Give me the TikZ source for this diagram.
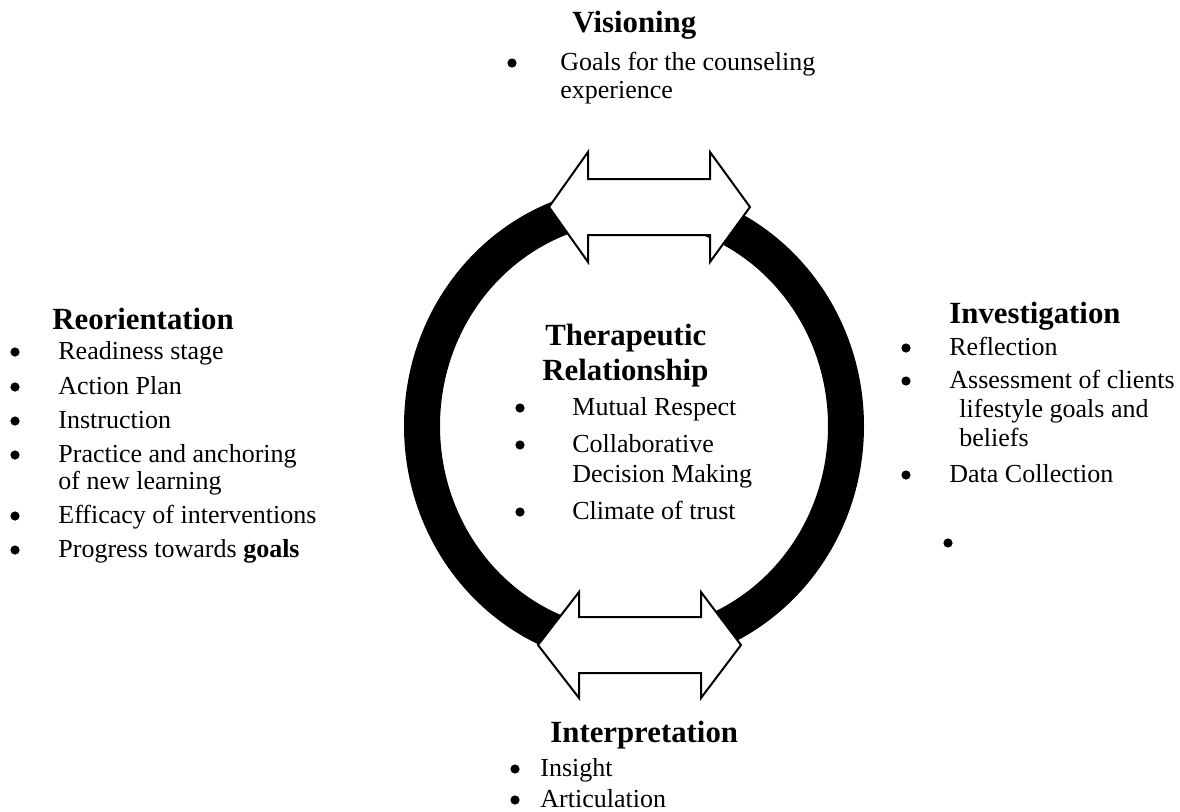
\documentclass[tikz,border=0pt]{standalone}
\usepackage{fontspec}
\setmainfont{Liberation Serif}
\newcommand{\headfont}{\fontsize{15.4pt}{18pt}\selectfont\bfseries}
\newcommand{\bodyfont}{\fontsize{13pt}{15pt}\selectfont}
\tikzset{
  head/.style={font=\headfont, anchor=base west, inner sep=0pt},
  itemtext/.style={font=\bodyfont, anchor=base west, inner sep=0pt},
  dot/.style={circle, fill=black, inner sep=0pt, minimum size=4.6pt},
  ring/.style={draw=black, line width=18pt},
  dblarrow/.style={draw=black, fill=white, line width=1pt, line join=miter},
}
\begin{document}
\begin{tikzpicture}[x=0.5pt, y=-0.5pt]
  \useasboundingbox (0,0) rectangle (1180,811);

  % the cycle ring
  \draw[ring] (634,426) ellipse [x radius=106pt, y radius=111pt];

  % double arrows on the ring, top and bottom
  \draw[dblarrow] (549,207) -- (588,152) -- (588,179) -- (710,179) -- (710,152)
    -- (750,207) -- (710,262) -- (710,235) -- (588,235) -- (588,262) -- cycle;
  \draw[dblarrow] (538,645) -- (579,592) -- (579,617) -- (701,617) -- (701,592)
    -- (741,645) -- (701,698) -- (701,673) -- (579,673) -- (579,698) -- cycle;

  % Visioning
  \node[head] (vis) at (572,32) {Visioning};
  \node[dot] (visb1) at (512,63) {};
  \node[itemtext] (vis1) at (560,70) {Goals for the counseling};
  \node[itemtext] (vis1b) at (560,98) {experience};

  % Reorientation
  \node[head] (reo) at (52,329) {Reorientation};
  \node[dot] (reob1) at (15,352) {};
  \node[itemtext] (reo1) at (58,359) {Readiness stage};
  \node[dot] (reob2) at (15,387) {};
  \node[itemtext] (reo2) at (58,394) {Action Plan};
  \node[dot] (reob3) at (15,421) {};
  \node[itemtext] (reo3) at (58,428) {Instruction};
  \node[dot] (reob4) at (15,455) {};
  \node[itemtext] (reo4) at (58,462) {Practice and anchoring};
  \node[itemtext] (reo4b) at (58,489) {of new learning};
  \node[dot] (reob5) at (15,516) {};
  \node[itemtext] (reo5) at (58,523) {Efficacy of interventions};
  \node[dot] (reob6) at (15,550) {};
  \node[itemtext] (reo6) at (58,557) {Progress towards \textbf{goals}};

  % Therapeutic Relationship
  \node[head] (ther1) at (545,345) {Therapeutic};
  \node[head] (ther2) at (542,380) {Relationship};
  \node[dot] (therb1) at (520,408) {};
  \node[itemtext] (ther3) at (572,415) {Mutual Respect};
  \node[dot] (therb2) at (520,445) {};
  \node[itemtext] (ther4) at (572,452) {Collaborative};
  \node[itemtext] (ther4b) at (572,482) {Decision Making};
  \node[dot] (therb3) at (520,512) {};
  \node[itemtext] (ther5) at (572,519) {Climate of trust};

  % Investigation
  \node[head] (inv) at (949,323) {Investigation};
  \node[dot] (invb1) at (906,348) {};
  \node[itemtext] (inv1) at (949,355) {Reflection};
  \node[dot] (invb2) at (906,381) {};
  \node[itemtext] (inv2) at (949,388) {Assessment of clients};
  \node[itemtext] (inv2b) at (959,417) {lifestyle goals and};
  \node[itemtext] (inv2c) at (959,446) {beliefs};
  \node[dot] (invb3) at (906,475) {};
  \node[itemtext] (inv3) at (949,482) {Data Collection};
  \node[dot] (invb4) at (948,543) {};

  % Interpretation
  \node[head] (int) at (550,742) {Interpretation};
  \node[dot] (intb1) at (515,769) {};
  \node[itemtext] (int1) at (540,776) {Insight};
  \node[dot] (intb2) at (515,800) {};
  \node[itemtext] (int2) at (540,807) {Articulation};
\end{tikzpicture}
\end{document}
